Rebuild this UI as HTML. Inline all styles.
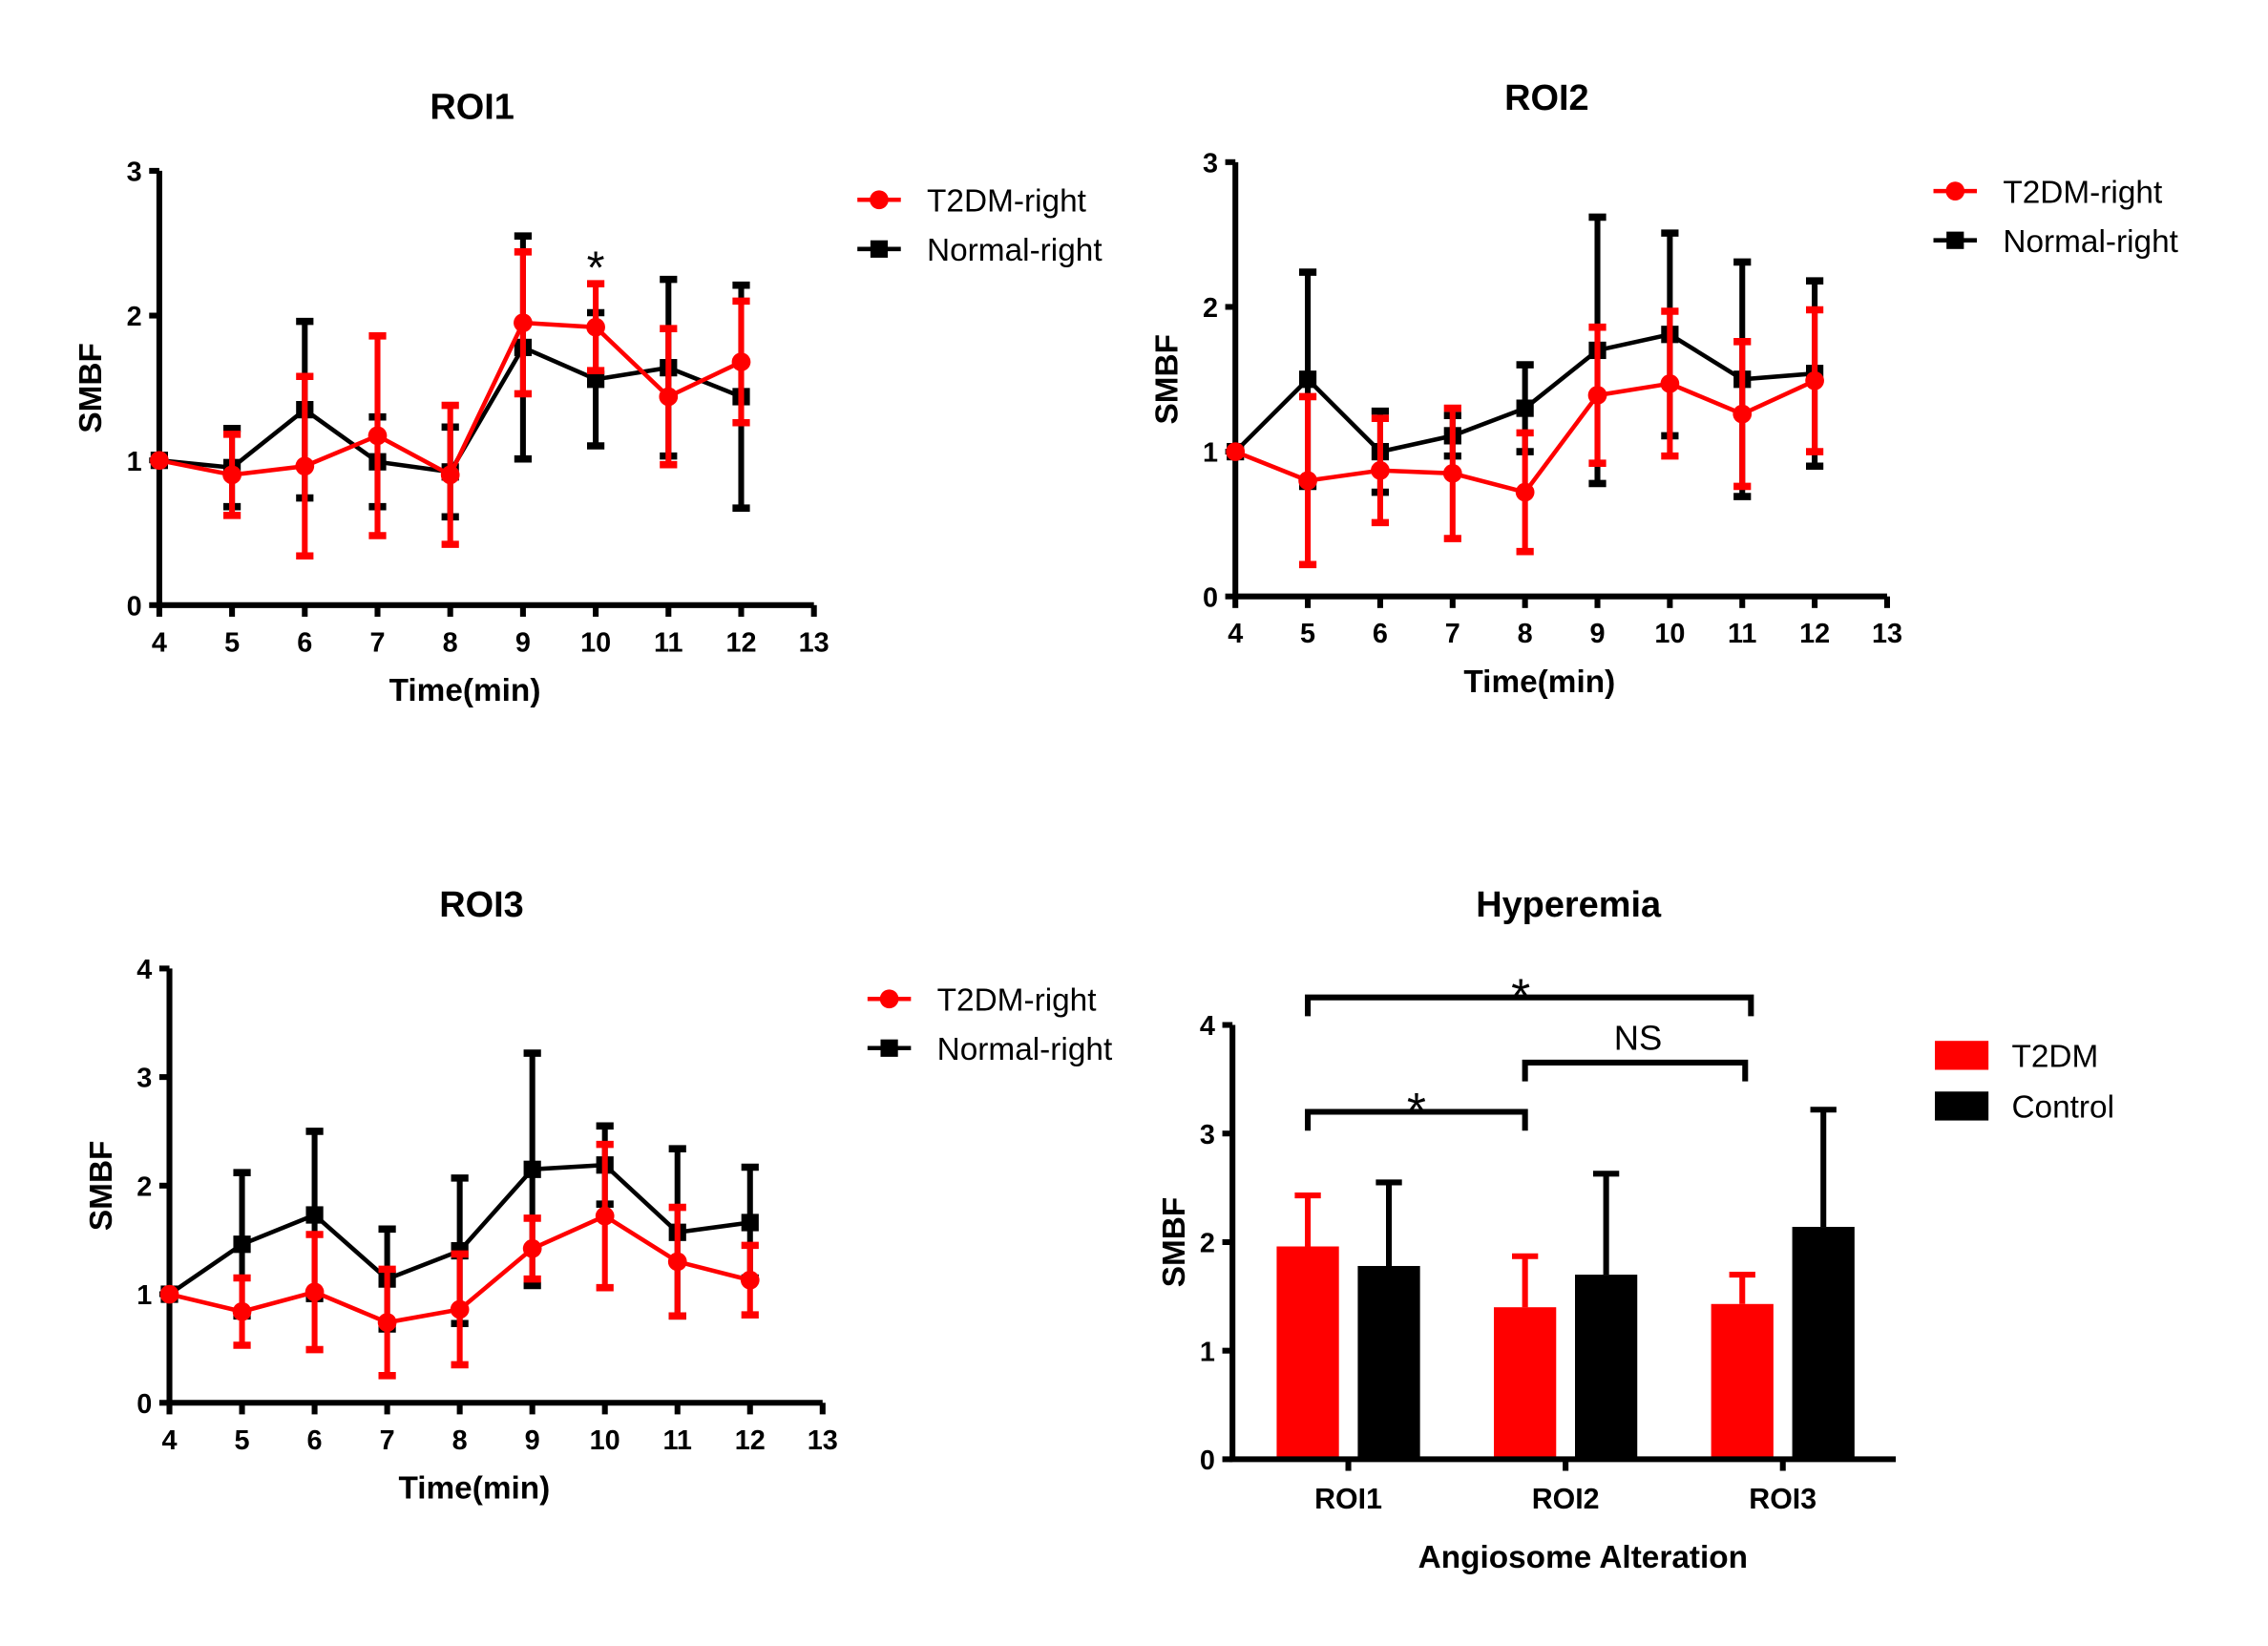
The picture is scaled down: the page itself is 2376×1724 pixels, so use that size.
<!DOCTYPE html>
<html><head><meta charset="utf-8"><style>
html,body{margin:0;padding:0;background:#fff;}
svg{display:block;font-family:"Liberation Sans",Arial,sans-serif;}
</style></head><body>
<svg id="fig" width="2376" height="1724" viewBox="0 0 1566 1137" preserveAspectRatio="none" xmlns="http://www.w3.org/2000/svg"></svg>
<script>
const times = [4,5,6,7,8,9,10,11,12];
const roi1T2 = [1.0,0.9,0.96,1.17,0.9,1.95,1.92,1.44,1.68];
const roi1T2Err = [0,0.28,0.62,0.69,0.48,0.49,0.30,0.47,0.42];
const roi1N = [1.0,0.95,1.35,0.99,0.92,1.78,1.56,1.64,1.44];
const roi1NErr = [0,0.27,0.61,0.31,0.31,0.77,0.46,0.61,0.77];
const roi2T2 = [1.0,0.80,0.87,0.85,0.72,1.39,1.47,1.26,1.49];
const roi2T2Err = [0,0.58,0.36,0.45,0.41,0.47,0.50,0.50,0.49];
const roi2N = [1.0,1.50,1.00,1.11,1.30,1.70,1.81,1.50,1.54];
const roi2NErr = [0,0.74,0.28,0.14,0.30,0.92,0.70,0.81,0.64];
const roi3T2 = [1.0,0.84,1.02,0.74,0.86,1.42,1.72,1.30,1.13];
const roi3T2Err = [0,0.31,0.53,0.49,0.51,0.28,0.66,0.50,0.32];
const roi3N = [1.0,1.46,1.73,1.14,1.40,2.15,2.19,1.57,1.66];
const roi3NErr = [0,0.66,0.77,0.46,0.67,1.07,0.36,0.77,0.51];
const barCats = ["ROI1","ROI2","ROI3"];
const barT2 = [1.96,1.40,1.43];
const barT2Err = [0.47,0.47,0.27];
const barCtl = [1.78,1.70,2.14];
const barCtlErr = [0.77,0.93,1.08];
const xTicks = [4,5,6,7,8,9,10,11,12,13];

const NS="http://www.w3.org/2000/svg";
const svg=document.getElementById('fig');
function mk(tag,attrs,parent){const e=document.createElementNS(NS,tag);for(const k in attrs)e.setAttribute(k,attrs[k]);(parent||svg).appendChild(e);return e;}
function txt(s,attrs,parent){const e=mk('text',attrs,parent);e.textContent=s;return e;}
const RED="#ff0000";

function linePanel(name,title,x0,x1,y0,yTop,ymax,titleY,series,legX,legY,star){
  const g=mk('g',{});
  
  
  const sx=v=>x0+(v-4)*(x1-x0)/9;
  const sy=v=>y0-v*(y0-yTop)/ymax;
  const t=txt(title,{x:(x0+x1)/2-10,y:titleY,'font-size':25,'font-weight':'bold','text-anchor':'middle'},g);
  
  const ax=mk('path',{d:`M${x0},${yTop} V${y0} H${x1}`,stroke:'#000','stroke-width':4,fill:'none'},g);
  
  for(let v=0;v<=ymax;v++){
    mk('line',{x1:x0-7,x2:x0,y1:sy(v),y2:sy(v),stroke:'#000','stroke-width':4},g);
    const l=txt(String(v),{x:x0-12,y:sy(v)+7,'font-size':19,'font-weight':'bold','text-anchor':'end'},g);
    
  }
  xTicks.forEach(v=>{
    mk('line',{x1:sx(v),x2:sx(v),y1:y0,y2:y0+8,stroke:'#000','stroke-width':4},g);
    const l=txt(String(v),{x:sx(v),y:y0+32,'font-size':19,'font-weight':'bold','text-anchor':'middle'},g);
    
  });
  const xt=txt('Time(min)',{x:(x0+x1)/2-15,y:y0+66,'font-size':22,'font-weight':'bold','text-anchor':'middle'},g);
  
  const cy=(y0+yTop)/2;
  const yt=txt('SMBF',{x:x0-40,y:cy,'font-size':22,'font-weight':'bold','text-anchor':'middle',transform:`rotate(-90 ${x0-40} ${cy})`},g);
  
  series.forEach(s=>{
    const sg=mk('g',{},g);
    
    
    s.vals.forEach((v,i)=>{
      const e=s.err[i]; if(!e) return;
      const x=sx(times[i]);
      mk('line',{x1:x,x2:x,y1:sy(v-e),y2:sy(v+e),stroke:s.c,'stroke-width':4},sg);
      mk('line',{x1:x-6,x2:x+6,y1:sy(v+e),y2:sy(v+e),stroke:s.c,'stroke-width':5},sg);
      mk('line',{x1:x-6,x2:x+6,y1:sy(v-e),y2:sy(v-e),stroke:s.c,'stroke-width':5},sg);
    });
    mk('polyline',{points:s.vals.map((v,i)=>sx(times[i])+','+sy(v)).join(' '),stroke:s.c,'stroke-width':3,fill:'none'},sg);
    s.vals.forEach((v,i)=>{
      const x=sx(times[i]),y=sy(v);
      if(s.sq) mk('rect',{x:x-6,y:y-6,width:12,height:12,fill:s.c},sg);
      else mk('circle',{cx:x,cy:y,r:6.5,fill:s.c},sg);
    });
  });
  if(star){const st=txt('*',{x:sx(star[0]),y:sy(star[1])+8,'font-size':32,'text-anchor':'middle'},g);}
  [[RED,false,'T2DM-right'],['#000',true,'Normal-right']].forEach((L,k)=>{
    const lg=mk('g',{},g);
    
    
    const y=legY+k*34;
    mk('line',{x1:legX,x2:legX+30,y1:y,y2:y,stroke:L[0],'stroke-width':3},lg);
    if(L[1]) mk('rect',{x:legX+9,y:y-6,width:12,height:12,fill:L[0]},lg);
    else mk('circle',{cx:legX+15,cy:y,r:6.5,fill:L[0]},lg);
    txt(L[2],{x:legX+48,y:y+8,'font-size':22},lg);
  });
}

linePanel('roi1-chart','ROI1',110,562,418,118,3,82,[
  {name:'normal-right-series',vals:roi1N,err:roi1NErr,c:'#000',sq:true},
  {name:'t2dm-right-series',vals:roi1T2,err:roi1T2Err,c:RED,sq:false}],592,138,[10,2.3]);
linePanel('roi2-chart','ROI2',853,1303,412,112,3,76,[
  {name:'normal-right-series',vals:roi2N,err:roi2NErr,c:'#000',sq:true},
  {name:'t2dm-right-series',vals:roi2T2,err:roi2T2Err,c:RED,sq:false}],1335,132,null);
linePanel('roi3-chart','ROI3',117,568,969,669,4,633,[
  {name:'normal-right-series',vals:roi3N,err:roi3NErr,c:'#000',sq:true},
  {name:'t2dm-right-series',vals:roi3T2,err:roi3T2Err,c:RED,sq:false}],599,690,null);

(function(){
  const g=mk('g',{});
  
  
  const x0=851,x1=1309,y0=1008,yTop=708,ymax=4;
  const sy=v=>y0-v*(y0-yTop)/ymax;
  const groupC=i=>931+i*150;
  const t=txt('Hyperemia',{x:1083,y:633,'font-size':25,'font-weight':'bold','text-anchor':'middle'},g);
  
  const bw=43;
  barCats.forEach((c,i)=>{
    [[barT2,barT2Err,RED,-28,'bar-t2dm-'],[barCtl,barCtlErr,'#000',28,'bar-control-']].forEach(S=>{
      const cx=groupC(i)+S[3], v=S[0][i], e=S[1][i];
      const b=mk('rect',{x:cx-bw/2,y:sy(v),width:bw,height:y0-sy(v),fill:S[2]},g);
      
      
      mk('line',{x1:cx,x2:cx,y1:sy(v),y2:sy(v+e),stroke:S[2],'stroke-width':4},g);
      mk('line',{x1:cx-9,x2:cx+9,y1:sy(v+e),y2:sy(v+e),stroke:S[2],'stroke-width':4},g);
    });
    const l=txt(c,{x:groupC(i),y:y0+34,'font-size':20,'font-weight':'bold','text-anchor':'middle'},g);
    
    mk('line',{x1:groupC(i),x2:groupC(i),y1:y0,y2:y0+8,stroke:'#000','stroke-width':4},g);
  });
  const ax=mk('path',{d:`M${x0},${yTop} V${y0} H${x1}`,stroke:'#000','stroke-width':4,fill:'none'},g);
  
  for(let v=0;v<=ymax;v++){
    mk('line',{x1:x0-7,x2:x0,y1:sy(v),y2:sy(v),stroke:'#000','stroke-width':4},g);
    const l=txt(String(v),{x:x0-12,y:sy(v)+7,'font-size':19,'font-weight':'bold','text-anchor':'end'},g);
    
  }
  const xt=txt('Angiosome Alteration',{x:1093,y:1083,'font-size':22,'font-weight':'bold','text-anchor':'middle'},g);
  
  const yt=txt('SMBF',{x:818,y:858,'font-size':22,'font-weight':'bold','text-anchor':'middle',transform:'rotate(-90 818 858)'},g);
  
  [[903,1209,689,'*',1050,686,'bracket-roi1-roi3'],[1053,1205,734,'NS',1131,723,'bracket-roi2-roi3'],[903,1053,768,'*',978,765,'bracket-roi1-roi2']].forEach(B=>{
    const bg=mk('g',{},g);
    
    
    mk('path',{d:`M${B[0]},${B[2]+13} V${B[2]} H${B[1]} V${B[2]+13}`,stroke:'#000','stroke-width':4,fill:'none'},bg);
    txt(B[3],{x:B[4],y:B[3]==='*'?B[5]+14:B[5]+2,'font-size':B[3]==='*'?34:24,'text-anchor':'middle'},bg);
  });
  [[RED,'T2DM'],['#000','Control']].forEach((L,k)=>{
    const lg=mk('g',{},g);
    
    
    const y=729+k*35;
    mk('rect',{x:1336,y:y-10,width:37,height:20,fill:L[0]},lg);
    txt(L[1],{x:1389,y:y+8,'font-size':22},lg);
  });
})();
</script>
</body></html>
